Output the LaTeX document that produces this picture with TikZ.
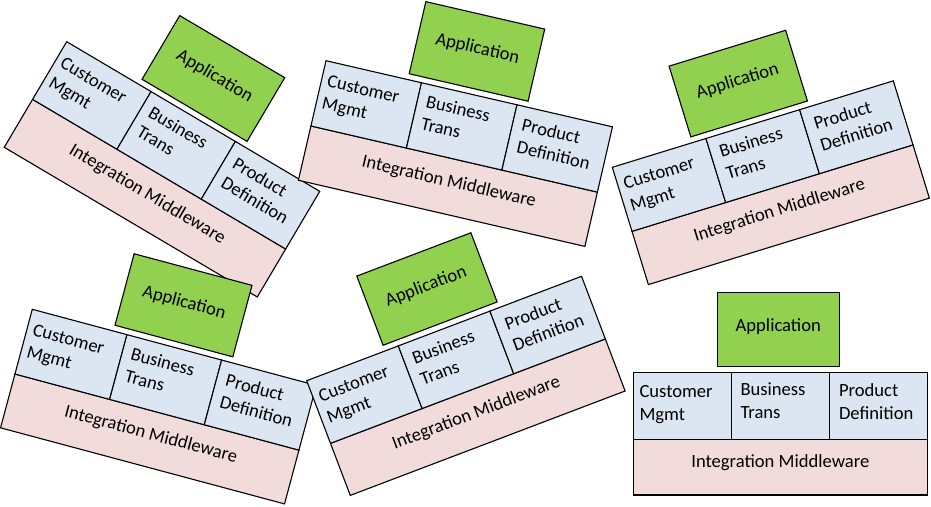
\documentclass[tikz,border=0pt]{standalone}
\usepackage{fontspec}
\setmainfont{Carlito}
\definecolor{appgreen}{HTML}{92D050}
\definecolor{cellblue}{HTML}{DCE6F2}
\definecolor{midpink}{HTML}{F2DCDB}
\tikzset{
  shapebox/.style={draw=black, line width=1.1pt, inner sep=0pt, outer sep=0pt},
  appbox/.style={shapebox, fill=appgreen, minimum width=122pt, minimum height=74pt},
  cellbox/.style={shapebox, fill=cellblue, minimum width=98pt, minimum height=67pt},
  midbox/.style={shapebox, fill=midpink, minimum width=294pt, minimum height=55.7pt},
  lbl/.style={inner sep=0pt, font=\fontsize{18.6}{22.8}\selectfont},
  celllbl/.style={lbl, align=left, anchor=north west},
}
\newcommand{\stackgroup}[4]{%
\begin{scope}[shift={(#2,#3)}, rotate=#4, transform shape]
  \node[midbox] (#1-mid) at (147,94.85) {};
  \node[cellbox] (#1-cm) at (49,33.5) {};
  \node[cellbox] (#1-bt) at (147,33.5) {};
  \node[cellbox] (#1-pd) at (245,33.5) {};
  \node[appbox] (#1-app) at (145,-43) {};
  \node[lbl, anchor=base] (#1-appt) at (145,-40.6) {Application};
  \node[lbl, anchor=base] (#1-midt) at (147,95.4) {Integration Middleware};
  \node[celllbl] (#1-cmt) at (6,12) {\rule{0pt}{13pt}Customer\\Mgmt};
  \node[celllbl] (#1-btt) at (107,10) {\rule{0pt}{13pt}Business\\Trans};
  \node[celllbl] (#1-pdt) at (205.5,11) {\rule{0pt}{13pt}Product\\Definition};
\end{scope}}
\begin{document}
\begin{tikzpicture}[x=1pt, y=-1pt]
\useasboundingbox (0,0) rectangle (931,506);
\stackgroup{ga}{66.7}{41.7}{-30.6}
\stackgroup{gb}{326}{60.7}{-13}
\stackgroup{gc}{612.3}{167.3}{17.1}
\stackgroup{gd}{32.3}{309.3}{-15}
\stackgroup{ge}{306.7}{380.7}{20.8}
\stackgroup{gf}{633.3}{372.3}{0}
\end{tikzpicture}
\end{document}
